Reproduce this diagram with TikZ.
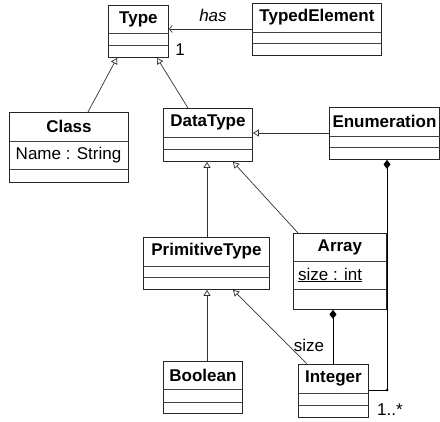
\documentclass[tikz,border=0pt]{standalone}
\usepackage{fontspec}
\setmainfont{Liberation Sans}
\usetikzlibrary{arrows.meta}

% class box: name, x, y (top), width, height, first divider, second divider, title
\newcommand\umlbox[8]{%
  \node[classbox, minimum width=#4pt, minimum height=#5pt, anchor=north west] (#1) at (#2,#3) {};
  \draw[divider] ([yshift=-#6pt]#1.north west) -- ([yshift=-#6pt]#1.north east);
  \draw[divider] ([yshift=-#7pt]#1.north west) -- ([yshift=-#7pt]#1.north east);
  \node[titletext] (#1-title) at ([yshift=-#6pt/2]#1.north) {#8};
}

\begin{document}
\begin{tikzpicture}[x=1pt, y=-1pt,
  classbox/.style={draw=black!85, line width=0.9pt, fill=white, inner sep=0pt},
  divider/.style={draw=black!75, line width=0.8pt},
  titletext/.style={font=\fontsize{17}{20}\selectfont\bfseries, inner sep=0pt},
  plaintext/.style={font=\fontsize{17}{20}\selectfont, inner sep=0pt},
  generalize/.style={draw=black!80, line width=0.7pt, -{Triangle[open, length=6pt, width=7pt, fill=white]}},
  navigate/.style={draw=black!80, line width=0.7pt, -{Straight Barb[length=3pt, width=7pt]}},
  compose/.style={draw=black, line width=0.8pt, {Diamond[length=9pt, width=7pt]}-},
]
\useasboundingbox[fill=white] (0,0) rectangle (440,422);

\umlbox{Type}{108}{5}{60}{52}{28}{40}{Type}
\umlbox{TypedElement}{252}{3}{129}{52}{29}{40}{TypedElement}
\umlbox{Class}{9}{112}{119}{70}{29}{57}{Class}
\umlbox{DataType}{163}{108}{89}{53}{29}{41}{DataType}
\umlbox{Enumeration}{329}{107}{110}{52}{29}{40}{Enumeration}
\umlbox{PrimitiveType}{143}{237}{126}{52}{29}{40}{PrimitiveType}
\umlbox{Array}{293}{233}{93}{76}{28}{56}{Array}
\umlbox{Boolean}{163}{361}{79}{52}{28}{41}{Boolean}
\umlbox{Integer}{298}{364}{70}{53}{29}{41}{Integer}

% attributes
\node[plaintext] (classattr) at (68.5,155) {Name : String};
\node[plaintext, anchor=west] (arrayattr) at (298,275) {\underline{size : int}};

% association TypedElement -> Type
\coordinate (hasstart) at ([yshift=-26pt]TypedElement.north west);
\draw[navigate] (hasstart) -- (hasstart -| Type.east);
\node[plaintext, font=\fontsize{17}{20}\selectfont\itshape] (haslabel) at (213,15) {has};
\node[plaintext] (hasmult) at (180,50) {1};

% generalizations
\draw[generalize] ([xshift=79pt]Class.north west) -- ([xshift=9pt]Type.south west);
\draw[generalize] ([xshift=25pt]DataType.north west) -- ([xshift=49pt]Type.south west);
\coordinate (enumgen) at ([yshift=-26pt]Enumeration.north west);
\draw[generalize] (enumgen) -- (enumgen -| DataType.east);
\coordinate (primgen) at ([xshift=64pt]PrimitiveType.north west);
\draw[generalize] (primgen) -- (primgen |- DataType.south);
\draw[generalize] ([xshift=5pt]Array.north west) -- ([xshift=70pt]DataType.south west);
\coordinate (boolgen) at ([xshift=44pt]Boolean.north west);
\draw[generalize] (boolgen) -- (boolgen |- PrimitiveType.south);
\draw[generalize] ([xshift=9pt]Integer.north west) -- ([xshift=90pt]PrimitiveType.south west);

% compositions
\coordinate (intcomp) at ([xshift=35pt]Integer.north west);
\draw[compose] (intcomp |- Array.south) -- (intcomp);
\node[plaintext] (sizelabel) at (309,345) {size};

\coordinate (intright) at ([yshift=-26pt]Integer.north east);
\coordinate (bend) at (387,390);
\draw[compose] (bend |- Enumeration.south) -- (bend) -- (intright);
\fill (bend) circle (1.5pt);
\node[plaintext] (enummult) at (390,410) {1..*};
\end{tikzpicture}
\end{document}
